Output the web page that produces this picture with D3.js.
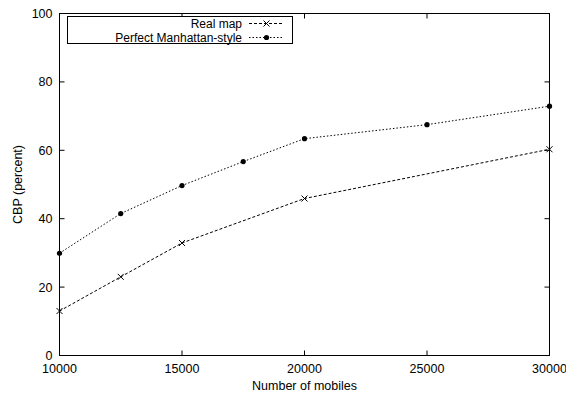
<!DOCTYPE html>
<html><head><meta charset="utf-8">
<script src="https://cdn.jsdelivr.net/npm/d3@7"></script>
<style>body{margin:0;background:#fff;} text{font-family:"Liberation Sans",Arial,sans-serif;font-size:12.5px;fill:#000;} .lgt{font-size:12px;}</style>
</head><body><svg id="c" width="566" height="396"></svg>
<script>
const xTicks = [10000, 15000, 20000, 25000, 30000];
const yTicks = [0, 20, 40, 60, 80, 100];
const realX = [10000, 12500, 15000, 20000, 30000];
const realY = [13, 23, 32.9, 45.9, 60.3];
const perfX = [10000, 12500, 15000, 17500, 20000, 25000, 30000];
const perfY = [29.9, 41.5, 49.7, 56.7, 63.4, 67.5, 72.9];
const seriesNames = ["Real map", "Perfect Manhattan-style"];

const svg = d3.select("#c");
const L = 59.5, R = 549.5, T = 13.5, B = 355.5;
const x = d3.scaleLinear().domain([10000, 30000]).range([L, R]);
const y = d3.scaleLinear().domain([0, 100]).range([B, T]);
const tl = 5;

svg.append("rect").attr("x", L).attr("y", T).attr("width", R - L).attr("height", B - T)
  .attr("fill", "none").attr("stroke", "#000").attr("stroke-width", 1);

const g = svg.append("g").attr("stroke", "#000").attr("stroke-width", 1);
xTicks.forEach(v => {
  g.append("line").attr("x1", x(v)).attr("x2", x(v)).attr("y1", B).attr("y2", B - tl);
  g.append("line").attr("x1", x(v)).attr("x2", x(v)).attr("y1", T).attr("y2", T + tl);
});
yTicks.forEach(v => {
  g.append("line").attr("x1", L).attr("x2", L + tl).attr("y1", y(v)).attr("y2", y(v));
  g.append("line").attr("x1", R).attr("x2", R - tl).attr("y1", y(v)).attr("y2", y(v));
});
svg.selectAll(".xl").data(xTicks).enter().append("text")
  .attr("x", d => x(d)).attr("y", B + 17).attr("text-anchor", "middle").text(d => d);
svg.selectAll(".yl").data(yTicks).enter().append("text")
  .attr("x", L - 7).attr("y", d => y(d) + 4.5).attr("text-anchor", "end").text(d => d);

svg.append("text").attr("x", (L + R) / 2).attr("y", 390).attr("text-anchor", "middle").text("Number of mobiles");
svg.append("text").attr("transform", `translate(22,${(T + B) / 2}) rotate(-90)`).attr("text-anchor", "middle").text("CBP (percent)");

const line = d3.line().x(d => x(d[0])).y(d => y(d[1]));
const real = realX.map((v, i) => [v, realY[i]]);
const perf = perfX.map((v, i) => [v, perfY[i]]);

function cross(sel, cx, cy) {
  const s = 3;
  sel.append("path").attr("d", `M${cx - s},${cy - s}L${cx + s},${cy + s}M${cx - s},${cy + s}L${cx + s},${cy - s}`)
    .attr("stroke", "#000").attr("stroke-width", 1).attr("fill", "none");
}

svg.append("path").datum(real).attr("d", line).attr("fill", "none").attr("stroke", "#000")
  .attr("stroke-width", 1).attr("stroke-dasharray", "3,2");
real.forEach(d => cross(svg, x(d[0]), y(d[1])));

svg.append("path").datum(perf).attr("d", line).attr("fill", "none").attr("stroke", "#000")
  .attr("stroke-width", 1).attr("stroke-dasharray", "1.5,2");
svg.selectAll(".pd").data(perf).enter().append("circle")
  .attr("cx", d => x(d[0])).attr("cy", d => y(d[1])).attr("r", 2.6).attr("fill", "#000");

const lg = svg.append("g");
lg.append("rect").attr("x", 67.5).attr("y", 16.5).attr("width", 225).attr("height", 27)
  .attr("fill", "#fff").attr("stroke", "#000").attr("stroke-width", 1);
const rowsY = [23.5, 37.5];
seriesNames.forEach((n, i) => {
  lg.append("text").attr("class", "lgt").attr("x", 242).attr("y", rowsY[i] + 4.3).attr("text-anchor", "end").text(n);
  lg.append("line").attr("x1", 249).attr("x2", 284).attr("y1", rowsY[i]).attr("y2", rowsY[i])
    .attr("stroke", "#000").attr("stroke-width", 1).attr("stroke-dasharray", i === 0 ? "3,2" : "1.5,2");
  if (i === 0) cross(lg, 266.5, rowsY[i]);
  else lg.append("circle").attr("cx", 266.5).attr("cy", rowsY[i]).attr("r", 2.6).attr("fill", "#000");
});
</script></body></html>
